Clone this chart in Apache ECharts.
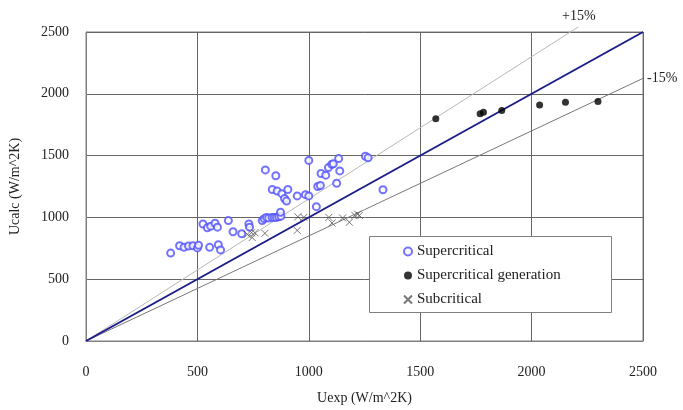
<!DOCTYPE html>
<html>
<head>
<meta charset="utf-8">
<script src="https://cdn.jsdelivr.net/npm/echarts@6/dist/echarts.min.js"></script>
<style>html,body{margin:0;padding:0;background:#fff}#c{width:683px;height:410px}</style>
</head>
<body>
<div id="c"></div>
<script>
const axisTicks = [0, 500, 1000, 1500, 2000, 2500];

const superX = [380, 420, 440, 460, 480, 500, 505, 555, 594, 604, 525, 545, 560, 579, 590, 639, 660, 699, 731, 734, 791, 800, 810, 820, 835, 845, 855, 865, 875, 873, 805, 852, 836, 858, 879, 906, 891, 900, 948, 985, 1000, 1000, 1034, 1040, 1052, 1055, 1076, 1088, 1103, 1110, 1134, 1139, 1125, 1254, 1266, 1333];
const superY = [711, 771, 758, 768, 771, 753, 775, 758, 779, 737, 947, 916, 929, 953, 921, 974, 884, 868, 947, 921, 974, 990, 1000, 995, 1000, 1000, 1000, 1005, 1010, 1042, 1384, 1337, 1226, 1213, 1192, 1226, 1153, 1132, 1174, 1184, 1174, 1461, 1087, 1250, 1258, 1355, 1342, 1403, 1429, 1434, 1476, 1376, 1276, 1495, 1482, 1224];

const genX = [1570, 1769, 1784, 1866, 2036, 2152, 2298];
const genY = [1798, 1838, 1851, 1865, 1910, 1931, 1937];

const subX = [724, 743, 746, 758, 803, 951, 978, 948, 1090, 1104, 1152, 1182, 1207, 1219, 1227];
const subY = [863, 876, 837, 876, 871, 1005, 1000, 895, 1000, 955, 995, 961, 1016, 1026, 1016];

const idealX = [0, 2500];
const plusX = [0, 2210];
const minusX = [0, 2500];

const zip = (a, b) => a.map((v, i) => [v, b[i]]);
const font = 'Liberation Serif';
const txt = '#222';

const chart = echarts.init(document.getElementById('c'), null, {renderer: 'canvas'});
chart.setOption({
  animation: false,
  backgroundColor: '#fff',
  textStyle: {fontFamily: font, color: txt},
  grid: {left: 84, right: 40, top: 32, bottom: 65, show: true, borderColor: '#808080', borderWidth: 1},
  xAxis: {
    type: 'value', min: 0, max: 2500, interval: 500,
    name: 'Uexp (W/m^2K)', nameLocation: 'middle', nameGap: 50,
    nameTextStyle: {fontFamily: font, fontSize: 14, color: txt},
    axisLine: {show: true, lineStyle: {color: '#808080'}},
    axisTick: {show: false},
    axisLabel: {fontFamily: font, fontSize: 14, color: txt, margin: 24, formatter: v => String(v)},
    splitLine: {show: true, lineStyle: {color: '#666', width: 1}}
  },
  yAxis: {
    type: 'value', min: 0, max: 2500, interval: 500,
    name: 'Ucalc (W/m^2K)', nameLocation: 'middle', nameGap: 64,
    nameTextStyle: {fontFamily: font, fontSize: 14, color: txt},
    axisLine: {show: true, lineStyle: {color: '#808080'}},
    axisTick: {show: false},
    axisLabel: {fontFamily: font, fontSize: 14, color: txt, margin: 17, formatter: v => String(v)},
    splitLine: {show: true, lineStyle: {color: '#666', width: 1}}
  },
  legend: {
    orient: 'vertical', left: 398, top: 239, z: 10,
    itemWidth: 8, itemHeight: 8, itemGap: 9,
    textStyle: {fontFamily: font, fontSize: 15, color: txt},
    data: ['Supercritical', 'Supercritical generation', 'Subcritical']
  },
  graphic: [
    {type: 'rect', left: 369, top: 236, z: 3, shape: {width: 242, height: 76}, style: {fill: '#fff', stroke: '#808080', lineWidth: 1}},
    {type: 'text', left: 562, top: 9, style: {text: '+15%', font: '14px "Liberation Serif"', fill: txt}},
    {type: 'text', left: 647, top: 71, style: {text: '-15%', font: '14px "Liberation Serif"', fill: txt}}
  ],
  series: [
    {name: 'ideal', type: 'line', data: idealX.map(v => [v, v]), showSymbol: false, silent: true, z: 3,
     lineStyle: {color: '#1c1c8a', width: 2}},
    {name: 'plus', type: 'line', data: plusX.map(v => [v, v * 1.15]), showSymbol: false, silent: true, clip: false, z: 2,
     lineStyle: {color: '#b8b8b8', width: 1}},
    {name: 'minus', type: 'line', data: minusX.map(v => [v, v * 0.85]), showSymbol: false, silent: true, z: 2,
     lineStyle: {color: '#777', width: 1}},
    {name: 'Supercritical', type: 'scatter', data: zip(superX, superY), symbol: 'emptyCircle', symbolSize: 7, z: 4,
     itemStyle: {color: '#5050ff', borderWidth: 1}},
    {name: 'Supercritical generation', type: 'scatter', data: zip(genX, genY), symbol: 'circle', symbolSize: 7, z: 4,
     itemStyle: {color: '#000'}},
    {name: 'Subcritical', type: 'scatter', data: zip(subX, subY), symbol: 'path://M0,0L10,10M10,0L0,10', symbolSize: 7, z: 4,
     itemStyle: {color: '#555', borderColor: '#555', borderWidth: 1}}
  ]
});
</script>
</body>
</html>
